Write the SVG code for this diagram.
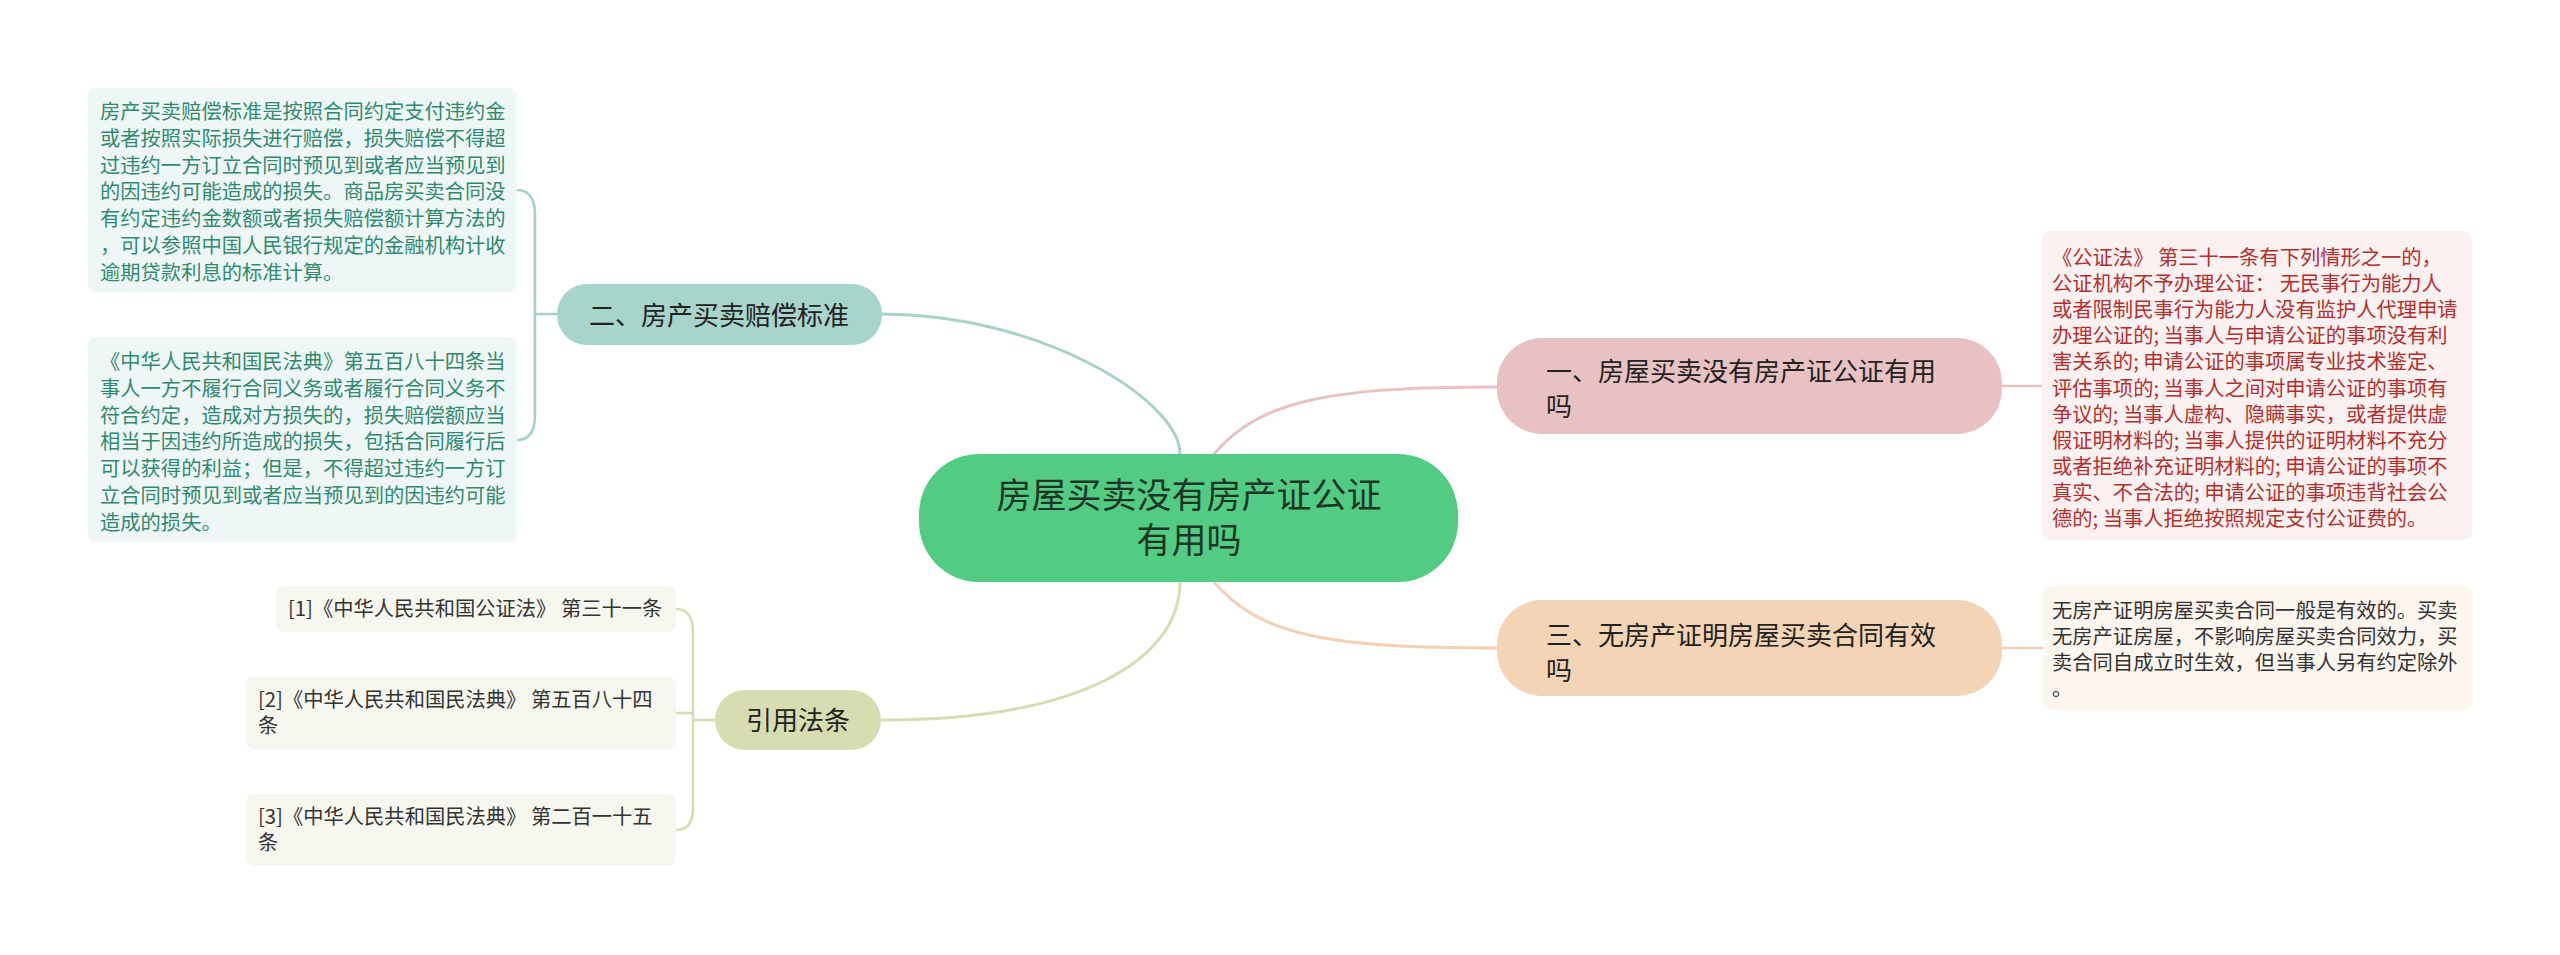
<svg xmlns="http://www.w3.org/2000/svg" width="2560" height="955" viewBox="0 0 2560 955">
<style>
text{font-family:"Noto Sans CJK SC","Noto Sans",sans-serif;}
.main{fill:none;stroke-width:3;stroke-linecap:round}
.sub{fill:none;stroke-width:2.6;stroke-linecap:round}
.t26{font-size:26px;fill:#222}
.leaf{font-size:20.3px}
.lt{fill:#2f8a6f}
.lr{fill:#b2302e}
.ld{fill:#333}
</style>
<rect width="2560" height="955" fill="#ffffff"/>
<g id="connectors">
<path class="main" stroke="#a6d2c9" d="M882,314 C1040,314 1180,400 1180,454"/>
<path class="main" stroke="#d7dcb1" d="M882,720 C1080,720 1180,660 1180,582"/>
<path class="main" stroke="#e8c2c2" d="M1214,454 C1260,400 1330,387 1497,387"/>
<path class="main" stroke="#f2d2b2" d="M1214,582 C1260,636 1330,648 1497,648"/>
<path class="sub" stroke="#a6d2c9" d="M557,314 L535,314 M517,190 C530,190 535,200 535,215 L535,415 C535,430 530,440 517,440"/>
<path class="sub" stroke="#d7dcb1" d="M715,720 L693,720 M676,713 L693,713 M676,609 C688,609 693,618 693,632 L693,808 C693,822 688,830 676,830"/>
<path class="sub" stroke="#e8c2c2" d="M2002,386 L2042,386"/>
<path class="sub" stroke="#f2d2b2" d="M2002,648 L2043,648"/>
</g>
<g id="root">
<rect x="919" y="454" width="539" height="128" rx="60" fill="#52cc83"/>
<text x="1189" y="508" font-size="35" fill="#1e3526" text-anchor="middle">房屋买卖没有房产证公证</text>
<text x="1189" y="553" font-size="35" fill="#1e3526" text-anchor="middle">有用吗</text>
</g>
<g id="n2">
<rect x="557" y="284" width="325" height="61" rx="30" fill="#a8d5cb"/>
<text class="t26" x="719" y="325" text-anchor="middle">二、房产买卖赔偿标准</text>
</g>
<g id="n2a">
<rect x="88" y="88" width="429" height="204" rx="8" fill="#eef7f5"/>
<text class="leaf lt" x="100">
<tspan x="100" y="119">房产买卖赔偿标准是按照合同约定支付违约金</tspan>
<tspan x="100" y="146">或者按照实际损失进行赔偿，损失赔偿不得超</tspan>
<tspan x="100" y="173">过违约一方订立合同时预见到或者应当预见到</tspan>
<tspan x="100" y="199">的因违约可能造成的损失。商品房买卖合同没</tspan>
<tspan x="100" y="226">有约定违约金数额或者损失赔偿额计算方法的</tspan>
<tspan x="100" y="253">，可以参照中国人民银行规定的金融机构计收</tspan>
<tspan x="100" y="280">逾期贷款利息的标准计算。</tspan>
</text>
</g>
<g id="n2b">
<rect x="88" y="337" width="429" height="205" rx="8" fill="#eef7f5"/>
<text class="leaf lt" x="100">
<tspan x="100" y="369">《中华人民共和国民法典》第五百八十四条当</tspan>
<tspan x="100" y="396">事人一方不履行合同义务或者履行合同义务不</tspan>
<tspan x="100" y="423">符合约定，造成对方损失的，损失赔偿额应当</tspan>
<tspan x="100" y="449">相当于因违约所造成的损失，包括合同履行后</tspan>
<tspan x="100" y="476">可以获得的利益；但是，不得超过违约一方订</tspan>
<tspan x="100" y="503">立合同时预见到或者应当预见到的因违约可能</tspan>
<tspan x="100" y="530">造成的损失。</tspan>
</text>
</g>
<g id="n4">
<rect x="715" y="690" width="166" height="60" rx="30" fill="#d7dcb1"/>
<text class="t26" x="798" y="730" text-anchor="middle">引用法条</text>
</g>
<g id="n4a">
<rect x="276" y="586" width="400" height="46" rx="8" fill="#f6f7ef"/>
<text class="leaf ld" x="288" y="616">[1]《中华人民共和国公证法》 第三十一条</text>
</g>
<g id="n4b">
<rect x="246" y="677" width="430" height="72" rx="8" fill="#f6f7ef"/>
<text class="leaf ld" x="258">
<tspan x="258" y="707">[2]《中华人民共和国民法典》 第五百八十四</tspan>
<tspan x="258" y="733">条</tspan>
</text>
</g>
<g id="n4c">
<rect x="246" y="794" width="430" height="72" rx="8" fill="#f6f7ef"/>
<text class="leaf ld" x="258">
<tspan x="258" y="824">[3]《中华人民共和国民法典》 第二百一十五</tspan>
<tspan x="258" y="850">条</tspan>
</text>
</g>
<g id="n1">
<rect x="1497" y="338" width="505" height="96" rx="45" fill="#e8c2c2"/>
<text class="t26">
<tspan x="1546" y="381">一、房屋买卖没有房产证公证有用</tspan>
<tspan x="1546" y="416">吗</tspan>
</text>
</g>
<g id="n1a">
<rect x="2042" y="231" width="430" height="309" rx="8" fill="#fbf1f1"/>
<text class="leaf lr">
<tspan x="2052" y="265">《公证法》 第三十一条有下列情形之一的，</tspan>
<tspan x="2052" y="291">公证机构不予办理公证： 无民事行为能力人</tspan>
<tspan x="2052" y="317">或者限制民事行为能力人没有监护人代理申请</tspan>
<tspan x="2052" y="343">办理公证的; 当事人与申请公证的事项没有利</tspan>
<tspan x="2052" y="369">害关系的; 申请公证的事项属专业技术鉴定、</tspan>
<tspan x="2052" y="396">评估事项的; 当事人之间对申请公证的事项有</tspan>
<tspan x="2052" y="422">争议的; 当事人虚构、隐瞒事实，或者提供虚</tspan>
<tspan x="2052" y="448">假证明材料的; 当事人提供的证明材料不充分</tspan>
<tspan x="2052" y="474">或者拒绝补充证明材料的; 申请公证的事项不</tspan>
<tspan x="2052" y="500">真实、不合法的; 申请公证的事项违背社会公</tspan>
<tspan x="2052" y="526">德的; 当事人拒绝按照规定支付公证费的。</tspan>
</text>
</g>
<g id="n3">
<rect x="1497" y="600" width="505" height="96" rx="45" fill="#f3d4b4"/>
<text class="t26">
<tspan x="1546" y="645">三、无房产证明房屋买卖合同有效</tspan>
<tspan x="1546" y="680">吗</tspan>
</text>
</g>
<g id="n3a">
<rect x="2043" y="586" width="429" height="124" rx="8" fill="#fdf6ef"/>
<text class="leaf ld">
<tspan x="2052" y="618">无房产证明房屋买卖合同一般是有效的。买卖</tspan>
<tspan x="2052" y="644">无房产证房屋，不影响房屋买卖合同效力，买</tspan>
<tspan x="2052" y="670">卖合同自成立时生效，但当事人另有约定除外</tspan>
<tspan x="2052" y="696">。</tspan>
</text>
</g>
</svg>
